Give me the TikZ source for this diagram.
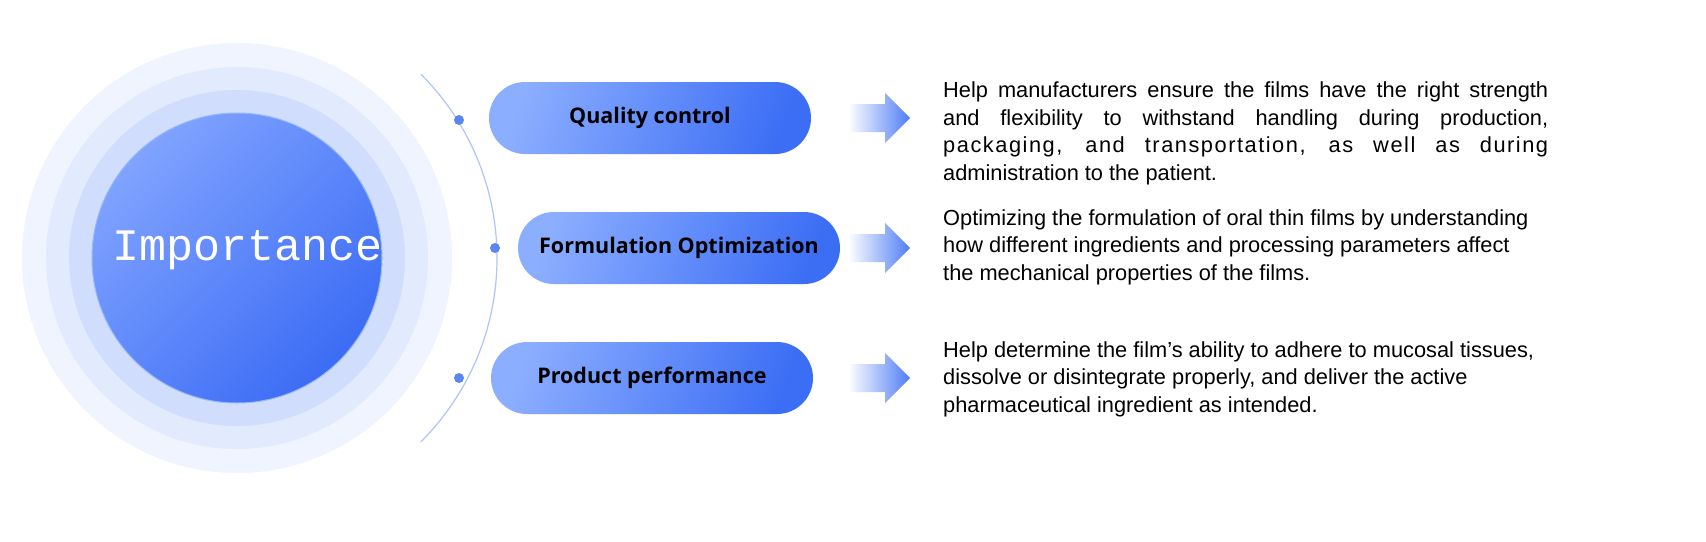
\documentclass[tikz,border=0pt]{standalone}
\usepackage{fontspec}
\setmainfont{Liberation Sans}
\newfontfamily\lsfont[LetterSpace=7]{Liberation Sans}
\newfontfamily\pillfont{Open Sans}
\newfontfamily\impfont{Liberation Mono}
\begin{document}
\begin{tikzpicture}[x=1pt,y=-1pt,
  pill/.style={rounded corners=36pt, minimum width=322pt, minimum height=72pt, left color=pA, right color=pB, shading angle=70, font=\pillfont\bfseries\fontsize{21.5}{24}\selectfont, text=black, inner sep=0pt},
  desc/.style={anchor=north west, align=left, inner sep=0pt, font=\fontsize{21.8}{27.5}\selectfont},
  dot/.style={circle, fill=dotc, minimum size=10pt, inner sep=0pt}]
\definecolor{pA}{HTML}{8CAEFF}
\definecolor{pB}{HTML}{3C6EF5}
\definecolor{dotc}{HTML}{5B86F0}
\definecolor{arcc}{HTML}{AFC4F8}
\useasboundingbox (0,0) rectangle (1706,541);
\fill[white] (0,0) rectangle (1706,541);
% rings
\fill[color={rgb,255:red,240;green,244;blue,254}] (237,258) circle (215);
\fill[color={rgb,255:red,226;green,234;blue,253}] (237,258) circle (191);
\fill[color={rgb,255:red,208;green,221;blue,252}] (237,258) circle (168);
\shade[left color={rgb,255:red,128;green,163;blue,255}, right color={rgb,255:red,60;green,108;blue,245}, shading angle=45, draw={rgb,255:red,150;green,185;blue,250}, line width=1pt] (237,258) circle (145);
\node[text=white, font=\impfont\fontsize{45}{50}\selectfont] (imp) at (248,250) {Importance};
% arc
\draw[arcc, line width=1.2pt] (237,258) ++(-45:260) arc[start angle=-45, end angle=45, radius=260];
\node[dot] (d1) at (459,120) {};
\node[dot] (d2) at (495,248) {};
\node[dot] (d3) at (459,378) {};
% pills
\node[pill] (p1) at (650,118) {Quality control};
\node[pill] (p2) at (679,248) {Formulation Optimization};
\node[pill] (p3) at (652,378) {Product performance};
% arrows
\foreach \y/\n in {118/a1,248/a2,378/a3}{
  \coordinate (\n) at (848,\y);
  \shade[left color=white, right color={rgb,255:red,80;green,125;blue,245}]
    (\n) ++(0,-14) -- ++(37,0) -- ++(0,-11) -- ++(25,25) -- ++(-25,25) -- ++(0,-11) -- ++(-37,0) -- cycle;
}
% texts
\node[desc] (t1) at (943,82) {\makebox[605pt][s]{Help manufacturers ensure the films have the right strength}\\
\makebox[605pt][s]{and flexibility to withstand handling during production,}\\
\makebox[605pt][s]{\lsfont packaging, and transportation, as well as during}\\
administration to the patient.};
\node[desc] (t2) at (943,209) {Optimizing the formulation of oral thin films by understanding\\
how different ingredients and processing parameters affect\\
the mechanical properties of the films.};
\node[desc] (t3) at (943,341) {Help determine the film's ability to adhere to mucosal tissues,\\
dissolve or disintegrate properly, and deliver the active\\
pharmaceutical ingredient as intended.};
\end{tikzpicture}
\end{document}
